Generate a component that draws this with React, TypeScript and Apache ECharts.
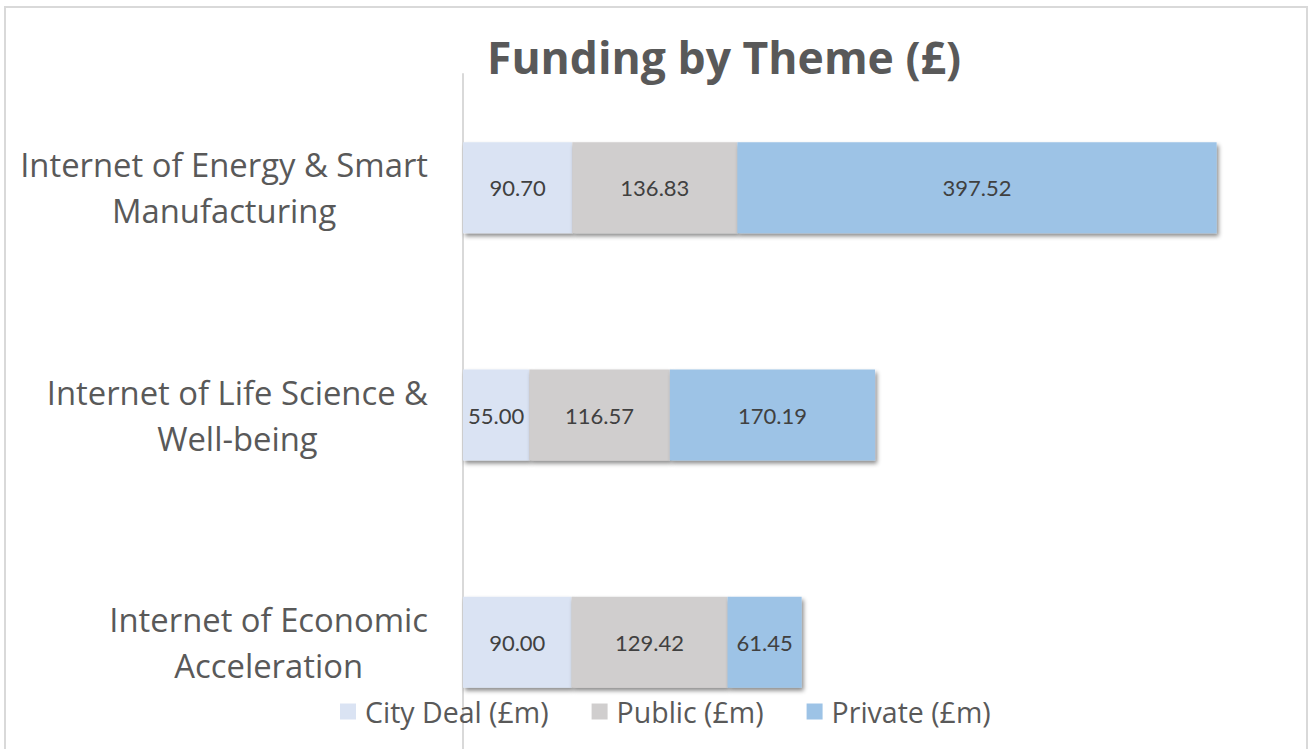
import React, { useEffect, useRef } from "react";
import * as echarts from "echarts";

const categories = [
  "Internet of Energy & Smart\nManufacturing",
  "Internet of Life Science &\nWell-being",
  "Internet of Economic\nAcceleration",
];
const cityDeal = [90.7, 55.0, 90.0];
const publicFunds = [136.83, 116.57, 129.42];
const privateFunds = [397.52, 170.19, 61.45];
const seriesNames = ["City Deal (£m)", "Public (£m)", "Private (£m)"];
const seriesColors = ["#dae3f3", "#d0cece", "#9dc3e6"];

const FONT = "'Open Sans', 'Noto Sans', sans-serif";
const LABEL_FONT = "Lato, 'Noto Sans', sans-serif";

export default function App() {
  const ref = useRef<HTMLDivElement>(null);
  useEffect(() => {
    document.body.style.margin = "0";
    document.body.style.overflow = "hidden";
    document.documentElement.style.overflow = "hidden";
    const chart = echarts.init(ref.current!, null, { renderer: "svg" });
    const dataSets = [cityDeal, publicFunds, privateFunds];
    chart.setOption({
      animation: false,
      backgroundColor: "#ffffff",
      title: {
        text: "Funding by Theme (£)",
        left: 719,
        top: 29,
        textAlign: "center",
        textStyle: { fontFamily: FONT, fontSize: 44.5, fontWeight: "bold", color: "#595959" },
      },
      graphic: [
        {
          type: "rect",
          shape: { x: 5, y: 7, width: 1302, height: 780 },
          style: { fill: "none", stroke: "#d9d9d9", lineWidth: 2 },
          z: 0,
        },
      ],
      legend: {
        left: 335,
        top: 692,
        itemWidth: 16,
        itemHeight: 16,
        itemGap: 43,
        icon: "rect",
        textStyle: { fontFamily: FONT, fontSize: 28.5, color: "#595959", padding: [0, 0, 0, 4] },
        data: seriesNames,
      },
      grid: { left: 463, top: 74, height: 682, width: 844 },
      xAxis: {
        type: "value",
        min: 0,
        max: 700,
        show: false,
        splitLine: { show: false },
      },
      yAxis: {
        type: "category",
        inverse: true,
        data: categories,
        axisLine: { show: true, lineStyle: { color: "#d9d9d9", width: 2 } },
        axisTick: { show: false },
        axisLabel: {
          margin: 35,
          align: "right",
          formatter: (v: string) =>
            v
              .split("\n")
              .map((s) => "{a|" + s + "}")
              .join("\n"),
          rich: {
            a: {
              align: "center",
              fontFamily: FONT,
              fontSize: 32.8,
              lineHeight: 46,
              color: "#595959",
            },
          },
        },
      },
      series: dataSets.map((d, i) => ({
        name: seriesNames[i],
        type: "bar",
        stack: "total",
        data: d,
        barWidth: 91,
        itemStyle: {
          color: seriesColors[i],
          shadowColor: "rgba(0,0,0,0.45)",
          shadowBlur: 4,
          shadowOffsetX: 2,
          shadowOffsetY: 3,
        },
        label: {
          show: true,
          position: "inside",
          color: "#404040",
          fontFamily: LABEL_FONT,
          fontSize: 22,
          formatter: (p: any) => Number(p.value).toFixed(2),
        },
      })),
    });
    return () => chart.dispose();
  }, []);
  return <div ref={ref} style={{ width: 1311, height: 762 }} />;
}
